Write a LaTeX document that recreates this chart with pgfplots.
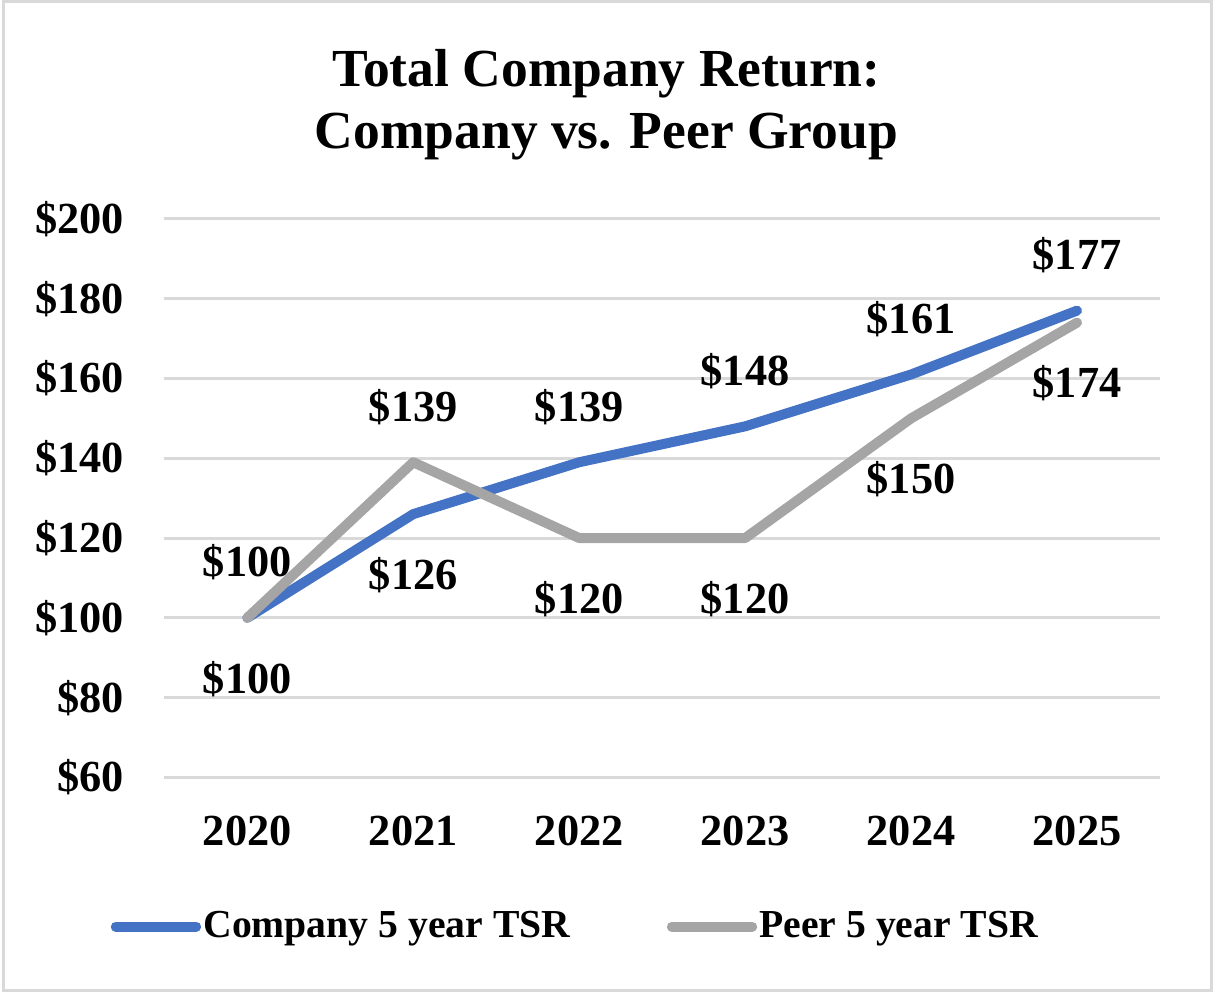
\documentclass[border=0pt]{standalone}
\usepackage{pgfplots}
\usepackage{pgfplotstable}
\pgfplotsset{compat=1.18}
\usepackage{fontspec}
\setmainfont{Liberation Serif}
\definecolor{cblue}{HTML}{4472C4}
\definecolor{cgray}{HTML}{A5A5A5}
\definecolor{cgrid}{HTML}{D9D9D9}

\pgfplotstableread{
x y pos
0 100 -22
1 126 -22
2 139 20
3 148 20
4 161 20
5 177 20
}\company
\pgfplotstableread{
x y pos
0 100 20
1 139 20
2 120 -22
3 120 -22
4 150 -22
5 174 -22
}\peer

\begin{document}
\begin{tikzpicture}
\begin{axis}[
  scale only axis,
  width=359pt, height=201.4pt,
  xmin=-0.5, xmax=5.5,
  ymin=60, ymax=200,
  ytick={60,80,...,200},
  xtick={0,...,5},
  xticklabels={2020,2021,2022,2023,2024,2025},
  /pgf/number format/assume math mode=true,
  yticklabel={\$\pgfmathprintnumber{\tick}},
  tick label style={font=\fontsize{16}{19}\selectfont\bfseries},
  yticklabel style={xshift=-11pt},
  xticklabel style={yshift=-10.5pt},
  major tick length=0pt,
  axis line style={draw=none},
  ymajorgrids,
  grid style={cgrid, line width=1.1pt},
  clip=false,
  nodes near coords={\$\pgfmathprintnumber{\pgfplotspointmeta}},
  point meta=y,
  visualization depends on={\thisrow{pos} \as \labpos},
  every node near coord/.append style={anchor=center, yshift=\labpos pt, font=\fontsize{16}{19}\selectfont\bfseries, text=black},
  legend style={draw=none, fill=none, at={(rel axis cs:0.413,-0.267)}, anchor=center,
    font=\fontsize{14.3}{17}\selectfont\bfseries, legend columns=2,
    /tikz/every even column/.append style={column sep=34pt},
    /tikz/every odd column/.append style={column sep=0pt},
    nodes={inner xsep=0.8pt}},
  legend image code/.code={\draw[#1, line cap=round] (0pt,0pt) -- (29pt,0pt);},
]
\addplot[cblue, line width=3.6pt, line cap=round, line join=round, mark=none] table[x=x,y=y] {\company};
\addlegendentry{Company 5 year TSR}
\addplot[cgray, line width=3.6pt, line cap=round, line join=round, mark=none] table[x=x,y=y] {\peer};
\addlegendentry{Peer 5 year TSR}
\node[align=center, font=\fontsize{19.3}{22.5}\selectfont\bfseries] at (rel axis cs:0.444,1.204) {Total Company Return:\\Company vs. Peer Group};
\draw[cgrid, line width=1.1pt] (rel axis cs:-0.1635,-0.3846) ++(0.55pt,0.55pt) rectangle ([shift={(-0.55pt,-0.55pt)}]rel axis cs:1.0532,1.3918);
\end{axis}
\end{tikzpicture}
\end{document}
